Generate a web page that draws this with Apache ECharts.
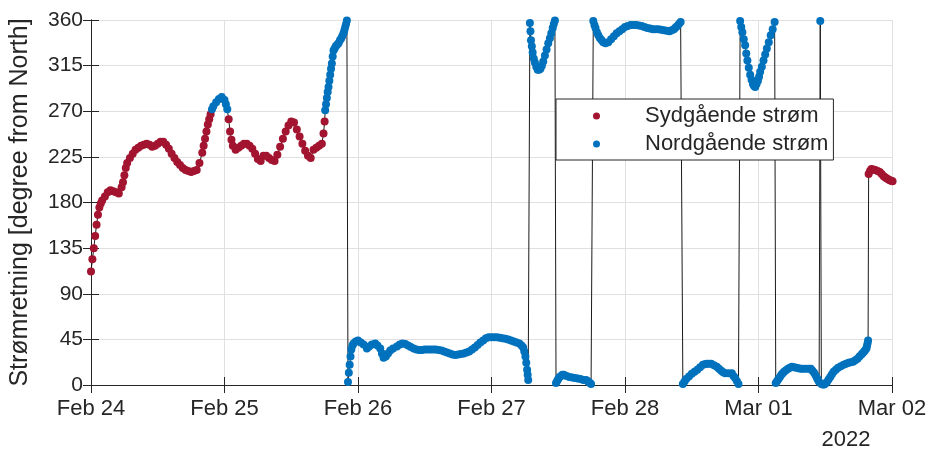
<!DOCTYPE html>
<html>
<head>
<meta charset="utf-8">
<script src="https://cdn.jsdelivr.net/npm/echarts@6/dist/echarts.min.js"></script>
<style>
html,body{margin:0;padding:0;background:#fff;}
#chart{width:932px;height:453px;}
</style>
</head>
<body>
<div id="chart"></div>
<script>
// Each pair: [hours after Feb 24 2022 00:00, current direction in degrees from North]
const run1 = [
  [0,112],[0.25,124],[0.5,135],[0.75,147],[1,158],[1.25,168],[1.5,175],[1.75,179],[2,182],[2.5,186],[3,190],[3.5,192],[4,191],[4.5,190],[5,189],
  [5.5,195],[5.75,200],[6,207],[6.25,214],[6.5,219],[7,224],[7.5,228],[8,232],[8.5,234],[9,236],[9.5,237],[10,238],[10.5,237],[11,235],[11.5,236],
  [12,238],[12.5,240],[13,240],[13.5,237],[14,233],[14.5,228],[15,224],[15.5,220],[16,217],[16.5,214],[17,212],[17.5,211],[18,210],[18.5,211],[19,212],
  [19.5,219],[20,229],[20.25,236],[20.5,243],[20.75,250],[21,257],[21.25,262],[21.5,267],[21.75,272],[22,275],[22.5,279],[23,282],[23.5,284],[24,281],
  [24.25,277],[24.5,272],[24.75,262],[25,250],[25.25,242],[25.5,236],[26,232],[26.5,234],[27,236],[27.5,238],[28,238],[28.5,236],[29,233],[29.5,228],
  [30,223],[30.5,221],[31,226],[31.5,226],[32,224],[32.5,222],[33,221],[33.5,227],[34,235],[34.5,243],[35,250],[35.5,256],[36,260],[36.5,259],[37,252],
  [37.5,245],[38,238],[38.5,231],[39,226],[39.5,224],[40,232],[40.5,234],[41,236],[41.5,238],[41.8,248],[42,260],[42.1,271],[42.25,277],[42.4,283],
  [42.55,289],[42.7,294],[42.85,300],[43,306],[43.15,312],[43.3,317],[43.45,324],[43.6,330],[43.8,332],[44,334],[44.25,335.5],[44.5,337],[44.75,340],
  [45,342],[45.2,344.5],[45.4,347],[45.55,350],[45.7,353],[45.85,356],[46,359.5]
];
const run2 = [
  [46.2,3],[46.35,12],[46.5,20],[46.65,28],[46.8,35],[47,39],[47.2,41],[47.6,43],[48,44],[48.5,42],[49,40],[49.6,36],[50,38],[50.5,40],[51.1,41],
  [51.5,39],[52,36],[52.3,31],[52.6,27],[53,28],[53.4,31],[53.8,34],[54.3,36],[55,38],[55.5,40],[56,41],[56.5,40.5],[57,39],[57.5,37.5],[58,36],
  [58.5,35],[59,34.5],[59.5,34.5],[60,35],[60.5,35],[61,35],[61.5,35],[62,35],[62.5,34.5],[63,34],[63.5,33],[64,32],[64.5,31],[65,30],[65.5,29.5],
  [66,30],[66.5,30.5],[67,31],[67.5,32],[68,33],[68.5,35],[69,37],[69.5,39.5],[70,42],[70.5,44],[71,46],[71.5,47],[72,47],[72.5,47],[73,47],
  [73.5,46.5],[74,46],[74.5,45.5],[75,45],[75.5,44],[76,43],[76.5,42],[77,41],[77.4,39],[77.7,37],[77.9,33],[78.1,28],[78.25,22],[78.4,15],[78.5,10],[78.6,5]
];
const run3 = [
  [78.9,357],[79,349],[79.1,340],[79.25,334],[79.4,328],[79.6,322],[79.8,318],[80.05,314],[80.3,311],[80.55,311],[80.8,312],[81.05,315],[81.3,319],
  [81.6,325],[81.9,331],[82.2,337],[82.5,342],[82.75,347],[83,352],[83.2,356],[83.4,359.5]
];
const run4 = [
  [83.6,2],[83.8,4],[84,6],[84.25,8],[84.5,9],[84.75,10],[85,10],[85.5,9],[86,8],[86.5,7.5],[87,7],[87.5,6.5],[88,6],[88.5,5],[89,5],[89.25,4],
  [89.5,3],[89.7,2],[89.9,1]
];
const run5 = [
  [90.3,359],[90.5,355],[90.7,352],[90.95,348],[91.2,345],[91.5,342],[91.8,340],[92.1,338],[92.5,337],[93,338],[93.5,341],[94,344],[94.5,347],
  [95,349],[95.5,351],[96,353],[96.5,354],[97,355],[97.5,355],[98,355],[98.5,354.5],[99,354],[99.5,353],[100,352],[100.5,351.5],[101,351],
  [101.5,351],[102,351],[102.5,350.5],[103,350],[103.5,349.5],[104,349],[104.4,350],[104.8,351],[105.1,352.5],[105.4,354],[105.7,356],[106,358]
];
const run6 = [
  [106.4,1],[106.7,3.5],[107,6],[107.5,8.5],[108,11],[108.5,13],[109,15],[109.5,17.5],[110,20],[110.35,20.5],[110.7,21],[111.1,21],[111.5,21],
  [112,19.5],[112.5,18],[112.9,16],[113.3,14],[113.65,12.5],[114,11.5],[114.6,11.5],[115.2,11.5],[115.5,9],[115.8,7],[116.1,4],[116.4,1]
];
const run7 = [
  [116.7,359],[116.9,353],[117.1,348],[117.35,341],[117.6,335],[117.8,327],[118,320],[118.25,313],[118.5,306],[118.75,301],[119,297],[119.2,295],
  [119.4,294],[119.65,297],[119.9,300],[120.1,304],[120.3,309],[120.6,314],[120.9,320],[121.2,326],[121.5,332],[121.85,338],[122.2,345],[122.55,351],[122.9,358]
];
const run8 = [
  [123.1,2],[123.35,4],[123.6,6],[123.85,8],[124.1,10],[124.35,11.5],[124.6,13],[124.95,14.5],[125.3,16],[125.65,17],[126,18],[126.4,17.5],
  [126.8,17],[127.2,16.5],[127.6,16],[128,16],[128.5,16],[129,16],[129.4,16],[129.7,14],[130,12],[130.25,9.5],[130.5,7],[130.7,5],[130.9,3],
  [131.1,359],[131.3,1],[131.55,0.5],[131.8,0.5],[132.05,1.5],[132.3,3],[132.6,5.5],[132.9,8],[133.2,10.5],[133.5,13],[133.9,15],[134.3,17],
  [134.8,18.5],[135.3,20],[135.75,21],[136.2,22],[136.6,22.5],[137,23],[137.4,24.5],[137.8,26],[138.15,28],[138.5,30],[138.75,31.5],[139,33],
  [139.2,34.5],[139.4,36],[139.5,38.5],[139.6,41],[139.7,44]
];
const run9 = [
  [139.8,208],[140.05,211],[140.3,213],[140.65,212.5],[141,212],[141.4,211],[141.8,210],[142.15,208],[142.5,206],[142.75,205],[143,204],
  [143.3,203],[143.6,202],[143.85,201.5],[144.1,201]
];
const seriesNames = ['Sydgående strøm', 'Nordgående strøm'];
const tickLabels = ['Feb 24', 'Feb 25', 'Feb 26', 'Feb 27', 'Feb 28', 'Mar 01', 'Mar 02'];
const yearLabel = '2022';
const yTitle = 'Strømretning [degree from North]';

const points = [].concat(run1, run2, run3, run4, run5, run6, run7, run8, run9);
const south = points.filter(p => p[1] >= 90 && p[1] <= 270);
const north = points.filter(p => p[1] < 90 || p[1] > 270);

const txt = '#262626';
const font = 'Liberation Sans, Arial, sans-serif';
const chart = echarts.init(document.getElementById('chart'), null, {renderer: 'canvas'});
const xBase = {
  type: 'value', min: 0, max: 144, interval: 24,
  axisLine: {show: true, lineStyle: {color: txt, width: 1}},
  axisTick: {show: true, inside: true, length: 8, lineStyle: {color: txt}},
};
const yBase = {
  type: 'value', min: 0, max: 360, interval: 45,
  axisLine: {show: true, lineStyle: {color: txt, width: 1}},
  axisTick: {show: true, inside: true, length: 8, lineStyle: {color: txt}},
};
chart.setOption({
  animation: false,
  backgroundColor: '#fff',
  textStyle: {fontFamily: font},
  grid: {left: 91, right: 40, top: 20, bottom: 68, containLabel: false},
  xAxis: [
    Object.assign({}, xBase, {
      position: 'bottom',
      axisLabel: {color: txt, fontSize: 22, margin: 13, fontFamily: font,
        formatter: v => tickLabels[Math.round(v / 24)] || ''},
      splitLine: {show: true, lineStyle: {color: '#e0e0e0', width: 1}}
    }),
    Object.assign({}, xBase, {
      position: 'top', axisLabel: {show: false}, splitLine: {show: false}
    })
  ],
  yAxis: [
    Object.assign({}, yBase, {
      position: 'left',
      name: yTitle, nameLocation: 'middle', nameGap: 58,
      nameTextStyle: {color: txt, fontSize: 25, fontFamily: font},
      axisLabel: {color: txt, fontSize: 21, margin: 8, fontFamily: font},
      splitLine: {show: true, lineStyle: {color: '#e0e0e0', width: 1}}
    }),
    Object.assign({}, yBase, {
      position: 'right', axisLabel: {show: false}, splitLine: {show: false}
    })
  ],
  legend: {
    data: seriesNames,
    orient: 'vertical',
    left: 556, top: 99,
    backgroundColor: '#fff',
    borderColor: txt, borderWidth: 1, borderRadius: 0,
    padding: [6, 5, 5, 37],
    itemGap: 6,
    itemWidth: 7, itemHeight: 7,
    icon: 'circle',
    textStyle: {color: txt, fontSize: 22, fontFamily: font, padding: [0, 0, 0, 40]}
  },
  graphic: [{
    type: 'text',
    style: {text: yearLabel, x: 846, y: 440, align: 'center', verticalAlign: 'middle',
      font: '22px ' + font, fill: txt}
  }],
  series: [
    {
      type: 'line', data: points, symbol: 'none', z: 1,
      lineStyle: {color: '#1a1a1a', width: 1}, silent: true, legendHoverLink: false
    },
    {
      name: seriesNames[0], type: 'scatter', data: south, symbol: 'circle', symbolSize: 8,
      itemStyle: {color: '#A2142F', opacity: 1}, z: 3, clip: false
    },
    {
      name: seriesNames[1], type: 'scatter', data: north, symbol: 'circle', symbolSize: 8,
      itemStyle: {color: '#0072BD', opacity: 1}, z: 3, clip: false
    }
  ]
});
</script>
</body>
</html>
